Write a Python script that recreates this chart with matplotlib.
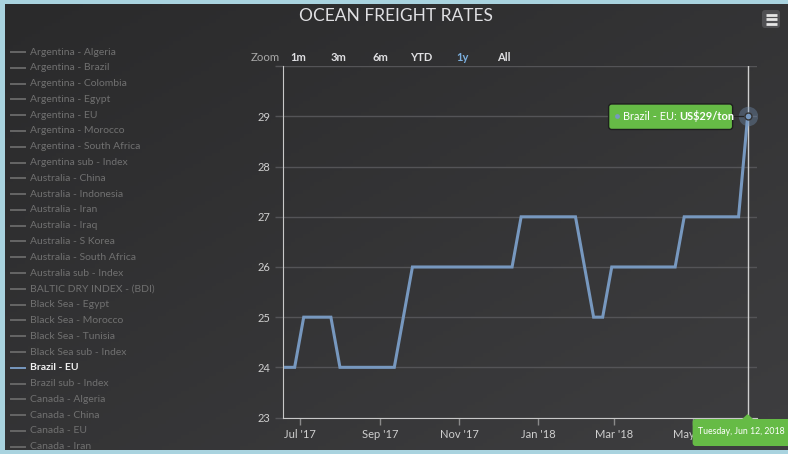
import numpy as np
import pandas as pd
import matplotlib
matplotlib.use("Agg")
import matplotlib.pyplot as plt
import matplotlib.dates as mdates
from matplotlib.patches import FancyBboxPatch, Polygon

# ---------------- data ----------------
dates = pd.date_range("2017-06-20", periods=52, freq="7D")
values = [24, 24, 25, 25, 25, 25, 24, 24, 24, 24, 24, 24, 24, 25,
          26, 26, 26, 26, 26, 26, 26, 26, 26, 26, 26, 26,
          27, 27, 27, 27, 27, 27, 27, 26, 25, 25,
          26, 26, 26, 26, 26, 26, 26, 26,
          27, 27, 27, 27, 27, 27, 27, 29]
series_name = "Brazil - EU"
legend_names = ["Argentina - Algeria", "Argentina - Brazil", "Argentina - Colombia",
                "Argentina - Egypt", "Argentina - EU", "Argentina - Morocco",
                "Argentina - South Africa", "Argentina sub - Index", "Australia - China",
                "Australia - Indonesia", "Australia - Iran", "Australia - Iraq",
                "Australia - S Korea", "Australia - South Africa", "Australia sub - Index",
                "BALTIC DRY INDEX - (BDI)", "Black Sea - Egypt", "Black Sea - Morocco",
                "Black Sea - Tunisia", "Black Sea sub - Index", "Brazil - EU",
                "Brazil sub - Index", "Canada - Algeria", "Canada - China", "Canada - EU",
                "Canada - Iran"]
x_ticks = ["2017-07-01", "2017-09-01", "2017-11-01", "2018-01-01", "2018-03-01", "2018-05-01"]
x_tick_labels = ["Jul '17", "Sep '17", "Nov '17", "Jan '18", "Mar '18", "May '18"]
y_ticks = [23, 24, 25, 26, 27, 28, 29, 30]
y_tick_labels = ["23", "24", "25", "26", "27", "28", "29", ""]
zoom_buttons = ["1m", "3m", "6m", "YTD", "1y", "All"]
title = "OCEAN FREIGHT RATES"

# ---------------- style ----------------
W, H = 788, 454
FONT = ["Lato", "DejaVu Sans"]
plt.rcParams["font.family"] = FONT
LINE = "#7798BF"
GRID = "#545457"
AXL = "#c8c8c8"
TXT = "#e0e0e3"
GREEN = "#66bb46"

fig = plt.figure(figsize=(W / 100, H / 100), dpi=100)
fig.patch.set_facecolor("#a9d3df")

# background panel with pixel coordinates
L, T, B, R = 5, 4, 450, 788
panel = [L / W, (H - B) / H, (R - L) / W, (B - T) / H]
bg = fig.add_axes(panel)
bg.set_xlim(L, R)
bg.set_ylim(B, T)
bg.axis("off")
gx, gy = np.meshgrid(np.linspace(0, 1, 200), np.linspace(0, 1, 120))
g = (gx + gy) / 2
c0 = np.array([0x2a, 0x2a, 0x2b]) / 255
c1 = np.array([0x3e, 0x3e, 0x40]) / 255
img = c0[None, None, :] * (1 - g[..., None]) + c1[None, None, :] * g[..., None]
bg.imshow(img, extent=(L, R, B, T), aspect="auto", zorder=0)

# main plot axes
px_l, px_r, px_t, px_b = 283, 757, 66.3, 417.5
ax = fig.add_axes([px_l / W, (H - px_b) / H, (px_r - px_l) / W, (px_b - px_t) / H])
ax.set_facecolor("none")
ax.set_xlim(pd.Timestamp("2017-06-18"), pd.Timestamp("2018-06-19 06:00"))
ax.set_ylim(23, 30)

ax.set_yticks(y_ticks)
ax.set_yticklabels(y_tick_labels)
ax.yaxis.grid(True, color=GRID, lw=1)
ax.set_axisbelow(True)
ax.tick_params(axis="y", length=6, width=1, color=GRID, pad=3, labelsize=8, labelcolor="#cfcfcf")
ax.set_xticks(pd.to_datetime(x_ticks))
ax.set_xticklabels(x_tick_labels)
ax.tick_params(axis="x", length=5, width=1, color="#8a8a8a", pad=3, labelsize=8, labelcolor="#cfcfcf")
for s in ["top", "right"]:
    ax.spines[s].set_visible(False)
ax.spines["left"].set_color(AXL)
ax.spines["bottom"].set_color(AXL)

ax.plot(dates, values, color=LINE, lw=2.2, solid_joinstyle="miter", zorder=3)

# crosshair and hover marker on last point
ax.axvline(dates[-1], color="#cfcfcf", lw=1, zorder=2)
ax.plot([dates[-1]], [values[-1]], "o", ms=14, color=LINE, alpha=0.35, mec="none", zorder=4)
ax.plot([dates[-1]], [values[-1]], "o", ms=5, mfc=LINE, mec="#333333", mew=1, zorder=5)

# overlay axes (drawn above the plot) for tooltips
ov = fig.add_axes(panel)
ov.set_xlim(L, R)
ov.set_ylim(B, T)
ov.axis("off")
ov.patch.set_visible(False)

# ---------------- decorations in pixel space ----------------
def to_px(xd, yd):
    dx, dy = ax.transData.transform((mdates.date2num(xd), yd))
    return dx, H - dy

ptx, pty = to_px(dates[-1], values[-1])

# title
bg.text(395.5, 16, title, ha="center", va="center", fontsize=12.5, color=TXT, zorder=6)

# menu icon
bg.add_patch(FancyBboxPatch((762, 10), 18, 18, boxstyle="round,pad=0,rounding_size=3",
                            fc="#505053", ec="none", zorder=6))
for yy in (14.5, 19, 23.5):
    bg.plot([765.5, 776.5], [yy, yy], color="#e6e6e6", lw=2, solid_capstyle="butt", zorder=7)

# zoom buttons
bg.text(280, 57, "Zoom", ha="right", va="center", fontsize=8.2, color="#a8a8a8", zorder=6)
for lab, cx in zip(zoom_buttons, [298, 339, 380, 421, 463, 504]):
    col = "#7cb0e0" if lab == "1y" else TXT
    bg.text(cx, 57, lab, ha="center", va="center", fontsize=8, color=col,
            fontweight="bold", zorder=6)

# legend
for i, name in enumerate(legend_names):
    yy = 52 + i * 15.79
    active = name == series_name
    bg.plot([11, 25], [yy, yy], color=LINE if active else "#666666", lw=1.4, zorder=6,
            clip_on=True)
    bg.text(30, yy, name, ha="left", va="center", fontsize=7.5,
            color="#f2f2f2" if active else "#707070",
            fontweight="bold" if active else "normal", zorder=6, clip_on=True)

# value tooltip
bx1, bx0 = ptx - 15, ptx - 139
by0, by1 = pty - 12.5, pty + 13
ov.plot([bx1, ptx - 5], [pty, pty], color="#222222", lw=1, zorder=6)
ov.add_patch(FancyBboxPatch((bx0, by0), bx1 - bx0, by1 - by0,
                            boxstyle="round,pad=0,rounding_size=3",
                            fc=GREEN, ec="#1e1e1e", lw=1, zorder=7))
ov.plot([bx0 + 8], [pty], "o", ms=3.5, color=LINE, mec="none", zorder=8)
t1 = ov.text(bx0 + 14, pty, series_name + ": ", ha="left", va="center", fontsize=7.9,
             color="white", zorder=8)
fig.canvas.draw()
w1 = t1.get_window_extent(fig.canvas.get_renderer()).width
ov.text(bx0 + 14 + w1, pty, "US$%d/ton" % values[-1], ha="left", va="center", fontsize=7.9,
        color="white", fontweight="bold", zorder=8)

# date tooltip
dx0, dx1, dy0, dy1 = ptx - 55, ptx + 48, 419, 446
ov.add_patch(FancyBboxPatch((dx0, dy0), dx1 - dx0, dy1 - dy0,
                            boxstyle="round,pad=0,rounding_size=3",
                            fc=GREEN, ec="none", zorder=7, clip_on=True))
ov.add_patch(Polygon([[ptx - 6, dy0 + 0.5], [ptx, dy0 - 5], [ptx + 6, dy0 + 0.5]],
                     closed=True, fc=GREEN, ec="none", zorder=7))
ov.text(ptx - 6, 432, dates[-1].strftime("%A, %b %d, %Y").replace(" 0", " "),
        ha="center", va="center", fontsize=6.3, color="white", zorder=8)

fig.savefig("out.png", dpi=100, facecolor=fig.get_facecolor())
